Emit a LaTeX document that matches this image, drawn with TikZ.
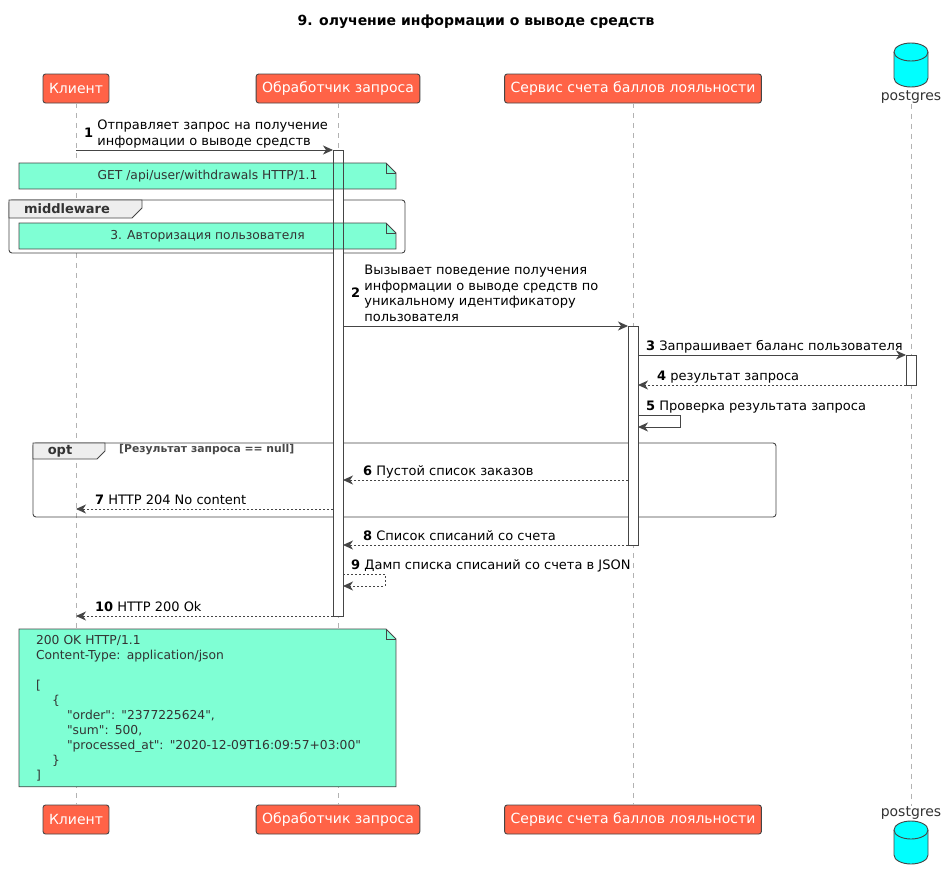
\documentclass[tikz,border=0pt]{standalone}
\usepackage{fontspec}
\setmainfont{DejaVu Sans}
\newfontfamily\notefam{DejaVu Sans}[Ligatures=TeXOff]
\usetikzlibrary{arrows.meta, positioning}

\definecolor{partfill}{HTML}{FF6347}
\definecolor{notefill}{HTML}{7FFFD4}
\definecolor{dbfill}{HTML}{00FFFF}
\definecolor{linegray}{HTML}{454545}
\definecolor{textgray}{HTML}{333333}
\definecolor{tabfill}{HTML}{EEEEEE}

\newcommand{\msgfont}{\fontsize{13}{15.5}\selectfont}
\newcommand{\notefont}{\notefam\fontsize{12.3}{15}\selectfont}
% number + (multi-line) message text
\newcommand{\msgtxt}[2]{\textbf{#1}\ \begin{tabular}[c]{@{}l@{}}#2\end{tabular}}
% dog-ear corner of a note node
\newcommand{\notefold}[1]{%
  \fill[white] ([xshift=-10pt]#1.north east) -- (#1.north east) -- ([yshift=-10pt]#1.north east) -- cycle;
  \draw[linegray, line width=0.9pt] (#1.south west) -- (#1.north west) -- ([xshift=-10pt]#1.north east)
    -- ([yshift=-10pt]#1.north east) -- (#1.south east) -- cycle;
  \draw[linegray, line width=0.9pt] ([xshift=-10pt]#1.north east) -- ([xshift=-10pt,yshift=-10pt]#1.north east)
    -- ([yshift=-10pt]#1.north east);}
% database cylinder: centre x, top y, height
\newcommand{\dbcyl}[3]{%
  \draw[dbshape] (#1-17,#2+9) -- (#1-17,#2+#3-9) arc[start angle=180, end angle=360, x radius=17pt, y radius=9pt]
    -- (#1+17,#2+9) arc[start angle=0, end angle=180, x radius=17pt, y radius=9pt] -- cycle;
  \draw[dbshape, fill=none] (#1-17,#2+9) arc[start angle=180, end angle=360, x radius=17pt, y radius=9pt];}

\begin{document}
\begin{tikzpicture}[x=1pt, y=-1pt,
  part/.style={draw=linegray, fill=partfill, rounded corners=2.5pt, text=white,
    font=\fontsize{14}{16}\selectfont, minimum height=29pt, inner xsep=6pt, line width=0.9pt},
  dbshape/.style={draw=linegray, fill=dbfill, line width=0.9pt},
  dblabel/.style={text=textgray, font=\fontsize{14}{16}\selectfont, inner sep=0pt},
  lifeline/.style={draw=gray!60, dash pattern=on 5pt off 5pt, line width=0.7pt},
  msg/.style={draw=linegray, line width=0.9pt, -{Stealth[length=10pt, width=9pt, inset=3pt]}},
  reply/.style={msg, dash pattern=on 2pt off 2pt},
  lbl/.style={anchor=south west, inner sep=0pt, font=\msgfont},
  act/.style={draw=linegray, fill=white, line width=0.9pt, minimum width=10pt, inner sep=0pt,
    outer sep=0pt, anchor=north},
  note/.style={fill=notefill, text=textgray, font=\notefont, inner sep=0pt, outer sep=0pt, anchor=north west},
  frame/.style={draw=linegray, line width=0.9pt, rounded corners=3pt},
  tab/.style={draw=linegray, fill=tabfill, line width=0.9pt},
]
\useasboundingbox (0,0) rectangle (947,883);

\node[font=\bfseries\fontsize{14}{16}\selectfont] (ttl) at (476,22) {9. олучение информации о выводе средств};

% participants, top and bottom
\node[part] (kl) at (76,88.5) {Клиент};
\node[part] (obr) at (338,88.5) {Обработчик запроса};
\node[part] (srv) at (633,88.5) {Сервис счета баллов лояльности};
\dbcyl{911}{43}{44}
\node[dblabel] (pglbl) at (911,97) {postgres};

\node[part] (klb) at (76,819.5) {Клиент};
\node[part] (obrb) at (338,819.5) {Обработчик запроса};
\node[part] (srvb) at (633,819.5) {Сервис счета баллов лояльности};
\node[dblabel] (pglblb) at (911,813) {postgres};
\dbcyl{911}{821}{43}

\draw[lifeline] (kl) -- (klb);
\draw[lifeline] (obr) -- (obrb);
\draw[lifeline] (srv) -- (srvb);
\draw[lifeline] (pglbl) -- (pglblb);

% groups
\draw[frame] (9,200) rectangle (405,253);
\draw[tab] (9,200) -- (142,200) -- (142,208) -- (132,218) -- (9,218) -- cycle;
\node[text=textgray, font=\bfseries\fontsize{13}{15}\selectfont] (mw) at (67,209) {middleware};

\draw[frame] (33,443) rectangle (776,517);
\draw[tab] (33,443) -- (105,443) -- (105,451) -- (97,459) -- (33,459) -- cycle;
\node[text=textgray, font=\bfseries\fontsize{13}{15}\selectfont] (opt) at (60,451) {opt};
\node[anchor=west, inner sep=0pt, text=textgray!90, font=\bfseries\fontsize{10.8}{12}\selectfont] (grd) at (119,450) {[Результат запроса == null]};

% activations
\node[act, minimum height=466pt] (obract) at (338,150) {};
\node[act, minimum height=219pt] (srvact) at (633,326) {};
\node[act, minimum height=30pt] (pgact) at (911,355) {};

% notes
\node[note, minimum width=377pt, minimum height=26pt] (get) at (19,163) {GET /api/user/withdrawals HTTP/1.1};
\notefold{get}
\node[note, minimum width=377pt, minimum height=26pt] (auth) at (19,223) {3. Авторизация пользователя};
\notefold{auth}
\node[note, inner xsep=17pt, inner ysep=6pt, text width=343pt, align=left] (resp) at (19,629)
  {200 OK HTTP/1.1\\Content-Type: application/json\\[15pt]
   [\\\hspace*{16pt}\{\\\hspace*{31pt}"order": "2377225624",\\\hspace*{31pt}"sum": 500,\\
   \hspace*{31pt}"processed\_at": "2020-12-09T16:09:57+03:00"\\\hspace*{16pt}\}\\]};
\notefold{resp}

\draw[linegray, line width=0.9pt] (obract.north west) rectangle (obract.south east);

% messages
\draw[msg] (kl |- 0,150) -- (obract.west |- 0,150);
\node[lbl] (m1) at (84,150) {\msgtxt{1}{Отправляет запрос на получение\\информации о выводе средств}};

\draw[msg] (obract.east |- 0,326) -- (srvact.west |- 0,326);
\node[lbl] (m2) at (351,326) {\msgtxt{2}{Вызывает поведение получения\\информации о выводе средств по\\уникальному идентификатору\\пользователя}};

\draw[msg] (srvact.east |- 0,355) -- (pgact.west |- 0,355);
\node[lbl] (m3) at (646,355) {\msgtxt{3}{Запрашивает баланс пользователя}};

\draw[reply] (pgact.west |- 0,385) -- (srvact.east |- 0,385);
\node[lbl] (m4) at (657,385) {\msgtxt{4}{результат запроса}};

\draw[msg] (srvact.east |- 0,415) -- ++(42,0) -- ++(0,12) -- (srvact.east |- 0,427);
\node[lbl] (m5) at (646,415) {\msgtxt{5}{Проверка результата запроса}};

\draw[reply] (srvact.west |- 0,480) -- (obract.east |- 0,480);
\node[lbl] (m6) at (363,480) {\msgtxt{6}{Пустой список заказов}};

\draw[reply] (obract.west |- 0,509) -- (kl |- 0,509);
\node[lbl] (m7) at (95,509) {\msgtxt{7}{HTTP 204 No content}};

\draw[reply] (srvact.west |- 0,545) -- (obract.east |- 0,545);
\node[lbl] (m8) at (363,545) {\msgtxt{8}{Список списаний со счета}};

\draw[reply] (obract.east |- 0,574) -- ++(42,0) -- ++(0,12) -- (obract.east |- 0,586);
\node[lbl] (m9) at (351,574) {\msgtxt{9}{Дамп списка списаний со счета в JSON}};

\draw[reply] (obract.west |- 0,616) -- (kl |- 0,616);
\node[lbl] (m10) at (95,616) {\msgtxt{10}{HTTP 200 Ok}};
\end{tikzpicture}
\end{document}
